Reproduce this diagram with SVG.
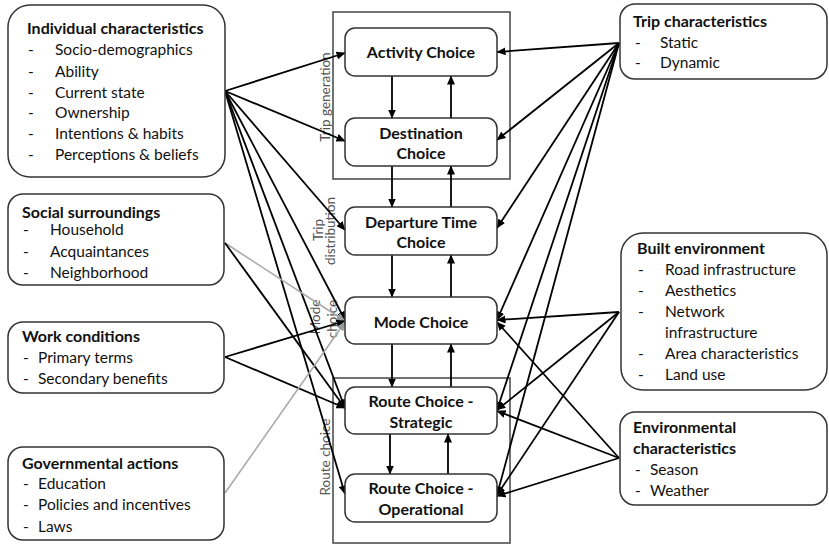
<svg xmlns="http://www.w3.org/2000/svg" width="829" height="545" viewBox="0 0 829 545">
<defs>
<marker id="a" markerWidth="9" markerHeight="8" refX="8.5" refY="4" orient="auto" markerUnits="userSpaceOnUse">
<path d="M0,0 L9,4 L0,8 Z" fill="#000"/>
</marker>
<marker id="ag" markerWidth="9" markerHeight="8" refX="8.5" refY="4" orient="auto" markerUnits="userSpaceOnUse">
<path d="M0,0 L9,4 L0,8 Z" fill="#999"/>
</marker>
<style>
.box{fill:#fff;stroke:#333;stroke-width:1.5}
.frame{fill:none;stroke:#444;stroke-width:1.5}
.t{font-family:Lato,"Liberation Sans",sans-serif;font-size:15.5px;fill:#111}
.b{font-weight:bold;font-size:16px}
.c{font-size:16px;font-weight:bold;text-anchor:middle}
.lbl{font-family:Lato,"Liberation Sans",sans-serif;font-size:13.5px;fill:#555;text-anchor:middle}
.e{stroke:#000;stroke-width:1.8;fill:none;marker-end:url(#a)}
.g{stroke:#aaa;stroke-width:1.6;fill:none;marker-end:url(#ag)}
</style>
</defs>
<rect width="829" height="545" fill="#fff"/>

<g id="frames">
<rect class="frame" x="333" y="12" width="177" height="167"/>
<rect class="frame" x="333" y="378" width="177" height="165"/>
<text class="lbl" transform="translate(329.5,97) rotate(-90)">Trip  generation</text>
<text class="lbl" transform="translate(322.5,230) rotate(-90)">Trip</text>
<text class="lbl" transform="translate(334.5,231) rotate(-90)">distribution</text>
<text class="lbl" transform="translate(319.5,317) rotate(-90)">Mode</text>
<text class="lbl" transform="translate(336.5,319) rotate(-90)">choice</text>
<text class="lbl" transform="translate(329.5,457) rotate(-90)">Route choice</text>
</g>

<g id="connectors">
<line class="e" x1="392" y1="76" x2="392" y2="118"/>
<line class="e" x1="451" y1="118" x2="451" y2="76"/>
<line class="e" x1="392" y1="166" x2="392" y2="207"/>
<line class="e" x1="451" y1="207" x2="451" y2="166"/>
<line class="e" x1="392" y1="255" x2="392" y2="297"/>
<line class="e" x1="451" y1="297" x2="451" y2="255"/>
<line class="e" x1="392" y1="344" x2="392" y2="387"/>
<line class="e" x1="451" y1="387" x2="451" y2="344"/>
<line class="e" x1="390" y1="434" x2="390" y2="474"/>
<line class="e" x1="448" y1="474" x2="448" y2="434"/>
<line class="e" x1="225" y1="91" x2="345" y2="53"/>
<line class="e" x1="225" y1="91" x2="345" y2="141"/>
<line class="e" x1="225" y1="91" x2="345" y2="230"/>
<line class="e" x1="225" y1="91" x2="345" y2="320"/>
<line class="e" x1="225" y1="91" x2="345" y2="408"/>
<line class="e" x1="225" y1="91" x2="345" y2="494"/>
<line class="g" x1="225" y1="243" x2="345" y2="321"/>
<line class="e" x1="225" y1="243" x2="345" y2="408"/>
<line class="e" x1="225" y1="357" x2="345" y2="321"/>
<line class="e" x1="225" y1="357" x2="345" y2="408"/>
<line class="g" x1="225" y1="493" x2="345" y2="322"/>
<line class="e" x1="619" y1="43" x2="497" y2="52"/>
<line class="e" x1="619" y1="43" x2="497" y2="140"/>
<line class="e" x1="619" y1="43" x2="497" y2="228"/>
<line class="e" x1="619" y1="43" x2="497" y2="320"/>
<line class="e" x1="619" y1="43" x2="497" y2="410"/>
<line class="e" x1="619" y1="43" x2="497" y2="495"/>
<line class="e" x1="619" y1="312" x2="497" y2="320"/>
<line class="e" x1="619" y1="312" x2="497" y2="410"/>
<line class="e" x1="619" y1="312" x2="497" y2="495"/>
<line class="e" x1="619" y1="458" x2="497" y2="322"/>
<line class="e" x1="619" y1="458" x2="497" y2="411"/>
<line class="e" x1="619" y1="458" x2="497" y2="496"/>
</g>

<g id="activity">
<rect class="box" x="345" y="28" width="152" height="48" rx="10"/>
<text class="t c" x="421" y="57.5">Activity Choice</text>
</g>
<g id="destination">
<rect class="box" x="345" y="118" width="152" height="48" rx="10"/>
<text class="t c" x="421" y="138.5">Destination</text>
<text class="t c" x="421" y="158.5">Choice</text>
</g>
<g id="departure">
<rect class="box" x="345" y="207" width="152" height="48" rx="10"/>
<text class="t c" x="421" y="227.5">Departure Time</text>
<text class="t c" x="421" y="247.5">Choice</text>
</g>
<g id="mode">
<rect class="box" x="345" y="297" width="152" height="47" rx="10"/>
<text class="t c" x="421" y="327.5">Mode Choice</text>
</g>
<g id="strategic">
<rect class="box" x="345" y="387" width="152" height="47" rx="10"/>
<text class="t c" x="421" y="406.5">Route Choice -</text>
<text class="t c" x="421" y="427.5">Strategic</text>
</g>
<g id="operational">
<rect class="box" x="345" y="474" width="152" height="48" rx="10"/>
<text class="t c" x="421" y="493.5">Route Choice -</text>
<text class="t c" x="421" y="514.5">Operational</text>
</g>

<g id="individual">
<rect class="box" x="8" y="5" width="217" height="172" rx="22"/>
<text class="t b" x="27" y="34">Individual characteristics</text>
<text class="t" x="28" y="55">-</text><text class="t" x="55" y="55">Socio-demographics</text>
<text class="t" x="28" y="77">-</text><text class="t" x="55" y="77">Ability</text>
<text class="t" x="28" y="98">-</text><text class="t" x="55" y="98">Current state</text>
<text class="t" x="28" y="118">-</text><text class="t" x="55" y="118">Ownership</text>
<text class="t" x="28" y="139">-</text><text class="t" x="55" y="139">Intentions &amp; habits</text>
<text class="t" x="28" y="160">-</text><text class="t" x="55" y="160">Perceptions &amp; beliefs</text>
</g>
<g id="social">
<rect class="box" x="8" y="194" width="216" height="91" rx="15"/>
<text class="t b" x="22" y="218">Social surroundings</text>
<text class="t" x="23" y="235">-</text><text class="t" x="50" y="235">Household</text>
<text class="t" x="23" y="257">-</text><text class="t" x="50" y="257">Acquaintances</text>
<text class="t" x="23" y="278">-</text><text class="t" x="50" y="278">Neighborhood</text>
</g>
<g id="work">
<rect class="box" x="8" y="322" width="216" height="71" rx="15"/>
<text class="t b" x="22" y="342">Work conditions</text>
<text class="t" x="23" y="363">-</text><text class="t" x="38" y="363">Primary terms</text>
<text class="t" x="23" y="384">-</text><text class="t" x="38" y="384">Secondary benefits</text>
</g>
<g id="governmental">
<rect class="box" x="8" y="447" width="216" height="93" rx="15"/>
<text class="t b" x="22" y="469">Governmental actions</text>
<text class="t" x="23" y="489">-</text><text class="t" x="38" y="489">Education</text>
<text class="t" x="23" y="510">-</text><text class="t" x="38" y="510">Policies and incentives</text>
<text class="t" x="23" y="532">-</text><text class="t" x="38" y="532">Laws</text>
</g>

<g id="trip">
<rect class="box" x="620" y="4" width="207" height="75" rx="15"/>
<text class="t b" x="633" y="27">Trip characteristics</text>
<text class="t" x="635" y="48">-</text><text class="t" x="660" y="48">Static</text>
<text class="t" x="635" y="68">-</text><text class="t" x="660" y="68">Dynamic</text>
</g>
<g id="built">
<rect class="box" x="621" y="233" width="206" height="157" rx="22"/>
<text class="t b" x="637" y="254">Built environment</text>
<text class="t" x="638" y="275">-</text><text class="t" x="665" y="275">Road infrastructure</text>
<text class="t" x="638" y="296">-</text><text class="t" x="665" y="296">Aesthetics</text>
<text class="t" x="638" y="317">-</text><text class="t" x="665" y="317">Network</text>
<text class="t" x="665" y="338">infrastructure</text>
<text class="t" x="638" y="359">-</text><text class="t" x="665" y="359">Area characteristics</text>
<text class="t" x="638" y="380">-</text><text class="t" x="665" y="380">Land use</text>
</g>
<g id="environmental">
<rect class="box" x="620" y="412" width="207" height="93" rx="15"/>
<text class="t b" x="633" y="433">Environmental</text>
<text class="t b" x="633" y="454">characteristics</text>
<text class="t" x="635" y="475">-</text><text class="t" x="650" y="475">Season</text>
<text class="t" x="635" y="496">-</text><text class="t" x="650" y="496">Weather</text>
</g>
</svg>
